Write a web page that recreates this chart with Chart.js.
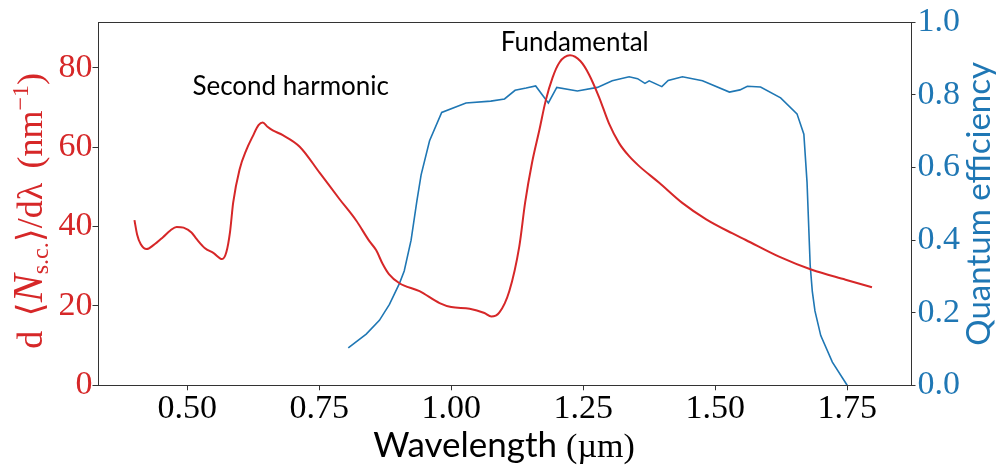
<!DOCTYPE html>
<html>
<head>
<meta charset="utf-8">
<script src="https://cdn.jsdelivr.net/npm/chart.js@4.4.1/dist/chart.umd.min.js"></script>
<style>
  html, body { margin: 0; padding: 0; background: #fff; }
  #wrap { width: 999px; height: 467px; }
</style>
</head>
<body>
<div id="wrap"><canvas id="myChart" width="999" height="467"></canvas></div>
<script>
// photon pair spectrum (left axis) vs wavelength in um
const wavelengthPairs = [0.400, 0.405, 0.412, 0.423, 0.436, 0.454, 0.468, 0.480, 0.493, 0.508,
  0.518, 0.533, 0.550, 0.566, 0.574, 0.581, 0.587, 0.599, 0.612, 0.624,
  0.635, 0.643, 0.652, 0.662, 0.681, 0.713, 0.751, 0.789, 0.820, 0.845,
  0.858, 0.870, 0.882, 0.902, 0.940, 0.978, 1.000, 1.035, 1.063, 1.076,
  1.091, 1.110, 1.129, 1.140, 1.153, 1.167, 1.179, 1.192, 1.205, 1.225,
  1.245, 1.261, 1.280, 1.299, 1.318, 1.337, 1.356, 1.394, 1.437, 1.483,
  1.532, 1.558, 1.621, 1.683, 1.747, 1.797]
const pairRate = [41.6, 38.0, 35.5, 34.3, 35.3, 37.3, 39.0, 39.9, 39.7, 38.5,
  36.8, 34.6, 33.3, 31.8, 33.5, 38.6, 46.0, 54.3, 59.3, 62.7,
  65.5, 66.2, 65.1, 64.2, 63.0, 60.1, 53.5, 46.8, 41.5, 36.3,
  34.0, 30.6, 28.0, 25.7, 23.7, 20.7, 19.7, 19.3, 18.2, 17.3,
  18.3, 23.7, 35.0, 46.0, 56.0, 64.3, 71.7, 77.5, 81.3, 83.1,
  81.6, 78.3, 72.6, 65.9, 61.0, 57.7, 55.2, 51.0, 46.0, 41.8,
  38.3, 36.6, 32.4, 29.1, 26.6, 24.7]

// detector quantum efficiency (right axis)
const wavelengthQE = [0.805, 0.839, 0.864, 0.883, 0.902, 0.911, 0.924, 0.935, 0.943, 0.959,
  0.982, 1.028, 1.075, 1.101, 1.121, 1.142, 1.160, 1.184, 1.200, 1.239,
  1.277, 1.305, 1.337, 1.353, 1.367, 1.375, 1.399, 1.411, 1.438, 1.476,
  1.527, 1.547, 1.561, 1.586, 1.624, 1.655, 1.668, 1.674, 1.680, 1.684,
  1.689, 1.700, 1.722, 1.750]
const quantumEff = [0.103, 0.141, 0.179, 0.223, 0.281, 0.315, 0.400, 0.508, 0.580, 0.674,
  0.752, 0.778, 0.783, 0.789, 0.813, 0.819, 0.825, 0.778, 0.821, 0.811,
  0.821, 0.839, 0.850, 0.845, 0.832, 0.839, 0.823, 0.840, 0.850, 0.839,
  0.808, 0.814, 0.824, 0.822, 0.792, 0.748, 0.692, 0.560, 0.330, 0.259,
  0.205, 0.137, 0.064, 0.000]

const xTicks = [0.50, 0.75, 1.00, 1.25, 1.50, 1.75]
const leftTicks = [0, 20, 40, 60, 80]
const rightTicks = [0.0, 0.2, 0.4, 0.6, 0.8, 1.0]

// text labels, baseline at (wavelength, left-axis value)
const notes = [
  { text: 'Second harmonic', x: 0.696, y: 73.2 },
  { text: 'Fundamental', x: 1.234, y: 84.1 }
]

const RED = '#d62728'
const BLUE = '#1f77b4'
const SERIF = '"Liberation Serif", "DejaVu Serif", serif'
const SANS = 'Lato, "Open Sans", sans-serif'

// draws a row of differently styled text pieces, centred on 0
function drawPieces(ctx, pieces){
    let total = 0
    pieces.forEach(p => { ctx.font = p.font; p.w = ctx.measureText(p.t).width; total += p.w })
    let x = -total / 2
    pieces.forEach(p => {
        ctx.font = p.font
        ctx.fillStyle = p.color
        ctx.fillText(p.t, x, p.dy || 0)
        x += p.w
    })
}

const labelsPlugin = {
    id: 'labels',
    afterDatasetsDraw(chart){
        const ctx = chart.ctx
        const a = chart.chartArea
        ctx.save()
        // box around the plot
        ctx.strokeStyle = '#333'
        ctx.lineWidth = 1
        ctx.strokeRect(Math.round(a.left) + 0.5, Math.round(a.top) + 0.5,
            Math.round(a.right - a.left), Math.round(a.bottom - a.top))

        ctx.textBaseline = 'alphabetic'
        ctx.textAlign = 'left'

        // x axis title
        ctx.save()
        ctx.translate((a.left + a.right) / 2, 457)
        drawPieces(ctx, [
            { t: 'Wavelength ', font: '35px ' + SANS, color: '#000' },
            { t: '(µm)', font: '34px ' + SERIF, color: '#000' }
        ])
        ctx.restore()

        // left axis title
        ctx.save()
        ctx.translate(42, (a.top + a.bottom) / 2 + 7)
        ctx.rotate(-Math.PI / 2)
        const big = '36px ' + SERIF
        const small = '24px ' + SERIF
        drawPieces(ctx, [
            { t: 'd\u2009\u2009\u27E8', font: big, color: RED },
            { t: 'N', font: 'italic 42px ' + SERIF, color: RED },
            { t: 's.c.', font: small, color: RED, dy: 6 },
            { t: '\u27E9/d\u03BB\u2009\u2009(nm', font: big, color: RED },
            { t: '\u22121', font: small, color: RED, dy: -14 },
            { t: ')', font: big, color: RED }
        ])
        ctx.restore()

        // right axis title
        ctx.save()
        ctx.translate(990, (a.top + a.bottom) / 2)
        ctx.rotate(-Math.PI / 2)
        drawPieces(ctx, [{ t: 'Quantum efficiency', font: '33px ' + SANS, color: BLUE }])
        ctx.restore()

        // notes
        const xs = chart.scales.x, ys = chart.scales.y
        notes.forEach(n => {
            ctx.save()
            ctx.translate(xs.getPixelForValue(n.x), ys.getPixelForValue(n.y))
            drawPieces(ctx, [{ t: n.text, font: '26px ' + SANS, color: '#000' }])
            ctx.restore()
        })
        ctx.restore()
    }
}

const tickGrid = { drawOnChartArea: false, drawTicks: true, tickLength: 5, color: '#333', lineWidth: 1 }

const chart = new Chart(document.getElementById('myChart').getContext('2d'), {
    type: 'line',
    data: {
        datasets: [
            {
                label: 'pairs',
                data: wavelengthPairs.map((x, i) => ({ x: x, y: pairRate[i] })),
                yAxisID: 'y',
                borderColor: RED,
                borderWidth: 2,
                pointRadius: 0,
                cubicInterpolationMode: 'monotone',
                fill: false
            },
            {
                label: 'QE',
                data: wavelengthQE.map((x, i) => ({ x: x, y: quantumEff[i] })),
                yAxisID: 'y1',
                borderColor: BLUE,
                borderWidth: 1.6,
                pointRadius: 0,
                tension: 0,
                fill: false
            }
        ]
    },
    options: {
        responsive: false,
        animation: false,
        devicePixelRatio: 1,
        layout: { padding: { top: 17.3, left: 0, right: 0, bottom: 0 } },
        plugins: { legend: { display: false }, tooltip: { enabled: false } },
        scales: {
            x: {
                type: 'linear',
                min: 0.33,
                max: 1.87,
                afterBuildTicks: s => { s.ticks = xTicks.map(v => ({ value: v })) },
                afterFit: s => { s.height = 81.7 },
                ticks: {
                    callback: v => v.toFixed(2),
                    font: { family: SERIF, size: 34 },
                    color: '#000',
                    padding: -2,
                    maxRotation: 0,
                    autoSkip: false
                },
                grid: tickGrid,
                border: { display: false }
            },
            y: {
                position: 'left',
                min: 0,
                max: 91.4,
                afterBuildTicks: s => { s.ticks = leftTicks.map(v => ({ value: v })) },
                afterFit: s => { s.width = 97.5 },
                ticks: {
                    callback: v => String(v),
                    font: { family: SERIF, size: 34 },
                    color: RED,
                    padding: 0
                },
                grid: tickGrid,
                border: { display: false }
            },
            y1: {
                position: 'right',
                min: 0,
                max: 1,
                afterBuildTicks: s => { s.ticks = rightTicks.map(v => ({ value: v })) },
                afterFit: s => { s.width = 88.5 },
                ticks: {
                    callback: v => v.toFixed(1),
                    font: { family: SERIF, size: 34 },
                    color: BLUE,
                    padding: 2
                },
                grid: tickGrid,
                border: { display: false }
            }
        }
    },
    plugins: [labelsPlugin]
})
</script>
</body>
</html>
